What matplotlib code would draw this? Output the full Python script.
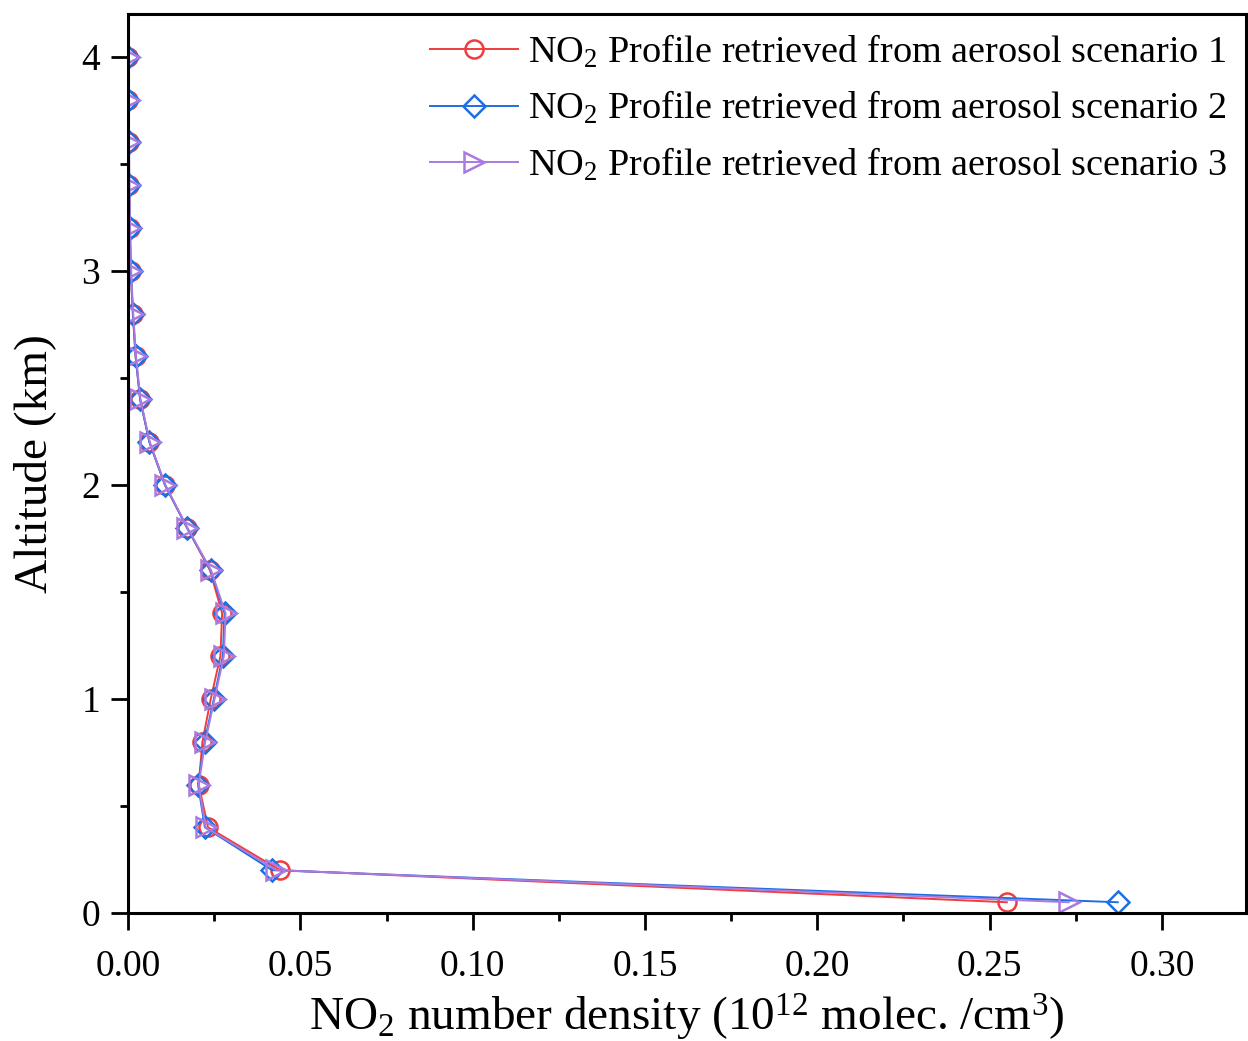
import numpy as np
import matplotlib
matplotlib.use("Agg")
import matplotlib.pyplot as plt
from matplotlib.ticker import MultipleLocator

plt.rcParams['font.family'] = ['Liberation Serif', 'DejaVu Serif']
plt.rcParams['mathtext.fontset'] = 'custom'
plt.rcParams['mathtext.rm'] = 'Liberation Serif'
plt.rcParams['mathtext.it'] = 'Liberation Serif:italic'

# altitude levels (km)
altitude = [0.05, 0.2, 0.4, 0.6, 0.8, 1.0, 1.2, 1.4, 1.6, 1.8, 2.0,
            2.2, 2.4, 2.6, 2.8, 3.0, 3.2, 3.4, 3.6, 3.8, 4.0]

# NO2 number density (1e12 molec./cm3)
scenario1 = [0.255, 0.0441, 0.0232, 0.0205, 0.0216, 0.0240, 0.0268, 0.0273,
             0.0238, 0.0171, 0.0107, 0.0062, 0.0035, 0.0022, 0.0014, 0.0008,
             0.0005, 0.0003, 0.0002, 0.0001, 0.0001]
scenario2 = [0.2872, 0.0418, 0.0223, 0.0203, 0.0222, 0.0249, 0.0275, 0.0280,
             0.0240, 0.0171, 0.0107, 0.0062, 0.0035, 0.0022, 0.0014, 0.0008,
             0.0005, 0.0003, 0.0002, 0.0001, 0.0001]
scenario3 = [0.2730, 0.0430, 0.0225, 0.0205, 0.0224, 0.0251, 0.0278, 0.0283,
             0.0241, 0.0172, 0.0108, 0.0063, 0.0036, 0.0023, 0.0015, 0.0009,
             0.0006, 0.0004, 0.0003, 0.0002, 0.0002]

labels = [r'NO$_2$ Profile retrieved from aerosol scenario 1',
          r'NO$_2$ Profile retrieved from aerosol scenario 2',
          r'NO$_2$ Profile retrieved from aerosol scenario 3']

fig = plt.figure(figsize=(12.48, 10.41), dpi=100)
ax = fig.add_axes([0.1026, 0.123, 0.8958, 0.8636])

ax.plot(scenario1, altitude, color='#F03C3C', lw=1.4, marker='o', ms=13,
        mfc='none', mew=1.8, label=labels[0])
ax.plot(scenario2, altitude, color='#1E6FE0', lw=1.4, marker='D', ms=11.5,
        mfc='none', mew=1.8, label=labels[1])
ax.plot(scenario3, altitude, color='#A97AE0', lw=1.4, marker='>', ms=14,
        mfc='none', mew=1.8, label=labels[2])

ax.set_xlim(0, 0.3244)
ax.set_ylim(0, 4.2)
ax.xaxis.set_major_locator(MultipleLocator(0.05))
ax.xaxis.set_minor_locator(MultipleLocator(0.025))
ax.yaxis.set_major_locator(MultipleLocator(1))
ax.yaxis.set_minor_locator(MultipleLocator(0.5))
ax.xaxis.set_major_formatter(matplotlib.ticker.FormatStrFormatter('%.2f'))

ax.tick_params(which='major', direction='out', length=12, width=2, labelsize=27)
ax.tick_params(axis='x', which='major', pad=14)
ax.tick_params(axis='y', which='major', pad=8)
ax.tick_params(which='minor', direction='out', length=6, width=2)
for s in ax.spines.values():
    s.set_linewidth(2.2)

ax.set_xlabel(r'NO$_2$ number density (10$^{12}$ molec. /cm$^3$)', fontsize=34, labelpad=6)
ax.set_ylabel('Altitude (km)', fontsize=34, labelpad=18)

ax.legend(loc='upper right', frameon=False, fontsize=27.5, numpoints=1,
          handlelength=2.3, handletextpad=0.25, labelspacing=0.5,
          borderaxespad=0.1)

fig.savefig('out.png', dpi=100)
